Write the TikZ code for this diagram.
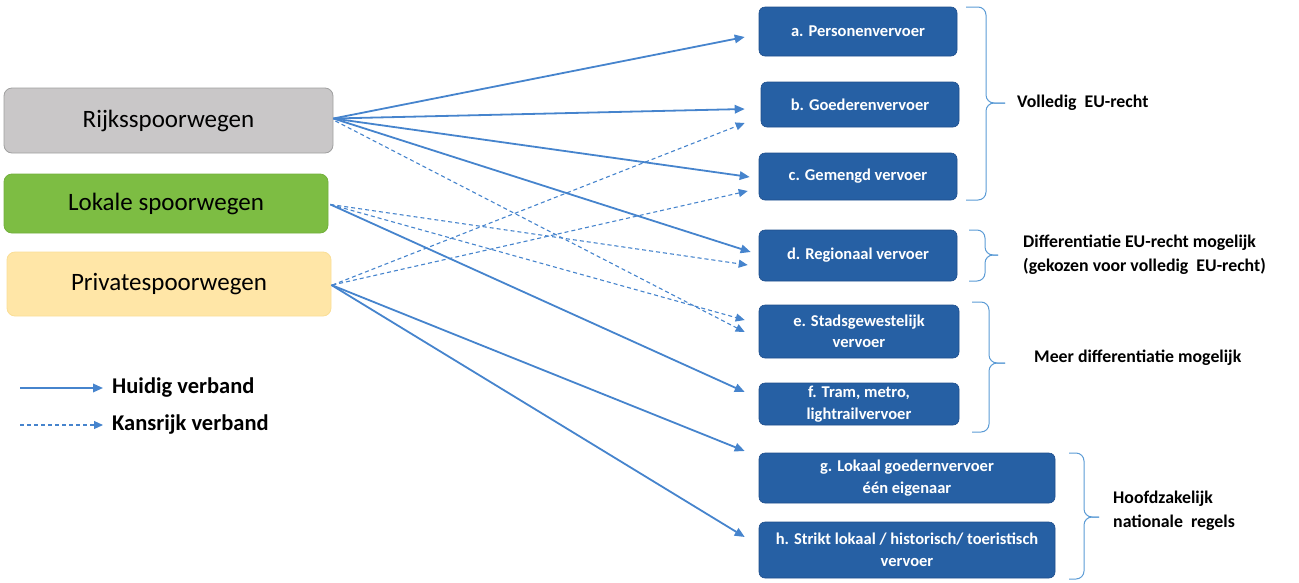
\documentclass[tikz,border=0pt]{standalone}
\usepackage{fontspec}
\setmainfont{Carlito}
\usetikzlibrary{arrows.meta,calc}
\definecolor{boxblue}{RGB}{38,96,164}
\definecolor{boxblueline}{RGB}{30,78,140}
\definecolor{arrowblue}{RGB}{70,132,205}
\definecolor{bracecol}{RGB}{91,155,213}
\definecolor{rijksfill}{RGB}{201,199,200}
\definecolor{rijksline}{RGB}{160,160,160}
\definecolor{lokfill}{RGB}{125,189,67}
\definecolor{lokline}{RGB}{115,176,60}
\definecolor{privfill}{RGB}{255,230,167}
\definecolor{privline}{RGB}{250,222,150}
\tikzset{
  srcbox/.style={rounded corners=8pt, inner sep=0pt, font=\fontsize{25}{28}\selectfont, line width=0.8pt},
  catbox/.style={rounded corners=6pt, fill=boxblue, draw=boxblueline, line width=0.6pt, inner sep=0pt,
    text=white, align=center, font=\bfseries\fontsize{16.5}{21.5}\selectfont},
  solidarrow/.style={draw=arrowblue, line width=1.8pt, -{Triangle[length=10pt,width=8.5pt]}},
  dasharrow/.style={draw=arrowblue, line width=1.1pt, dash pattern=on 4pt off 3pt, -{Triangle[length=9pt,width=8pt]}},
  bracepath/.style={draw=bracecol, line width=1pt, rounded corners=8pt},
  grouplabel/.style={anchor=west, align=left, inner sep=0pt, font=\bfseries\fontsize{17.8}{24}\selectfont},
  legendtext/.style={anchor=west, inner sep=0pt, font=\bfseries\fontsize{22.5}{26}\selectfont}
}
\begin{document}
\begin{tikzpicture}[x=1pt,y=-1pt]
\useasboundingbox (0,0) rectangle (1299,582);
% source boxes
\node[srcbox, fill=rijksfill, draw=rijksline, minimum width=329pt, minimum height=65pt] (rijks) at (168.5,120.5) {Rijksspoorwegen};
\node[srcbox, fill=lokfill, draw=lokline, minimum width=324pt, minimum height=59pt] (lokale) at (166,203.5) {Lokale spoorwegen};
\node[srcbox, fill=privfill, draw=privline, minimum width=324pt, minimum height=64pt] (private) at (169,284) {Privatespoorwegen};
% category boxes
\node[catbox, minimum width=198pt, minimum height=49pt] (a) at (858,31.5) {a. Personenvervoer};
\node[catbox, minimum width=198pt, minimum height=45pt] (b) at (860,104.5) {b. Goederenvervoer};
\node[catbox, minimum width=198pt, minimum height=47pt] (c) at (858,176.5) {c. Gemengd vervoer};
\node[catbox, minimum width=198pt, minimum height=51pt] (d) at (858,255.5) {d. Regionaal vervoer};
\node[catbox, minimum width=200pt, minimum height=53pt] (e) at (859,331.5) {e. Stadsgewestelijk\\vervoer};
\node[catbox, minimum width=200pt, minimum height=42pt] (f) at (859,404) {f. Tram, metro,\\lightrailvervoer};
\node[catbox, minimum width=296pt, minimum height=50pt] (g) at (907,478) {g. Lokaal goedernvervoer\\één eigenaar};
\node[catbox, minimum width=296pt, minimum height=56pt] (h) at (907,550) {h. Strikt lokaal / historisch/ toeristisch\\vervoer};
% current links (solid)
\draw[solidarrow] ($(rijks.east)+(0,-2)$) -- ($(a.west)+(-14,5.5)$);
\draw[solidarrow] ($(rijks.east)+(0,-2)$) -- ($(b.west)+(-16,4.5)$);
\draw[solidarrow] ($(rijks.east)+(0,-2)$) -- ($(c.west)+(-9,0.5)$);
\draw[solidarrow] ($(rijks.east)+(0,-2)$) -- ($(d.west)+(-8,-3.5)$);
\draw[solidarrow] ($(lokale.east)+(2,1)$) -- ($(f.west)+(-14,-12)$);
\draw[solidarrow] ($(private.east)+(0,1)$) -- ($(g.west)+(-14,-27)$);
\draw[solidarrow] ($(private.east)+(0,1)$) -- ($(h.west)+(-14,-13)$);
% possible links (dashed)
\draw[dasharrow] ($(rijks.east)+(2,0.5)$) -- ($(e.west)+(-14,0.5)$);
\draw[dasharrow] ($(lokale.east)+(2,1)$) -- ($(d.west)+(-11,9.5)$);
\draw[dasharrow] ($(lokale.east)+(2,1)$) -- ($(e.west)+(-14,-11.5)$);
\draw[dasharrow] ($(private.east)+(1,1)$) -- ($(b.west)+(-16,18.5)$);
\draw[dasharrow] ($(private.east)+(1,1)$) -- ($(c.west)+(-11,14.5)$);
% braces
\draw[bracepath] (966,7) -- (986,7) -- (986,103) -- (1005,103);
\draw[bracepath] (966,200) -- (986,200) -- (986,103) -- (1005,103);
\draw[bracepath] (969,230) -- (985,230) -- (985,255) -- (998,255);
\draw[bracepath] (969,281) -- (985,281) -- (985,255) -- (998,255);
\draw[bracepath] (972,302) -- (989,302) -- (989,363) -- (1005,363);
\draw[bracepath] (972,432) -- (989,432) -- (989,363) -- (1005,363);
\draw[bracepath] (1069,453) -- (1084,453) -- (1084,517) -- (1099,517);
\draw[bracepath] (1069,579) -- (1084,579) -- (1084,517) -- (1099,517);
% group labels
\node[grouplabel] (l1) at (1017,103) {Volledig\ \ EU-recht};
\node[grouplabel] (l2) at (1023,255) {Differentiatie EU-recht mogelijk\\(gekozen voor volledig\ \ EU-recht)};
\node[grouplabel] (l3) at (1034,358) {Meer differentiatie mogelijk};
\node[grouplabel] (l4) at (1113,511) {Hoofdzakelijk\\nationale\ \ regels};
% legend
\coordinate (ls1) at (20,388);
\coordinate (le1) at (103,388);
\coordinate (ls2) at (20,425);
\coordinate (le2) at (103,425);
\draw[solidarrow] (ls1) -- (le1);
\draw[dasharrow] (ls2) -- (le2);
\node[legendtext] (t1) at (112,388) {Huidig verband};
\node[legendtext] (t2) at (112,424) {Kansrijk verband};
\end{tikzpicture}
\end{document}
